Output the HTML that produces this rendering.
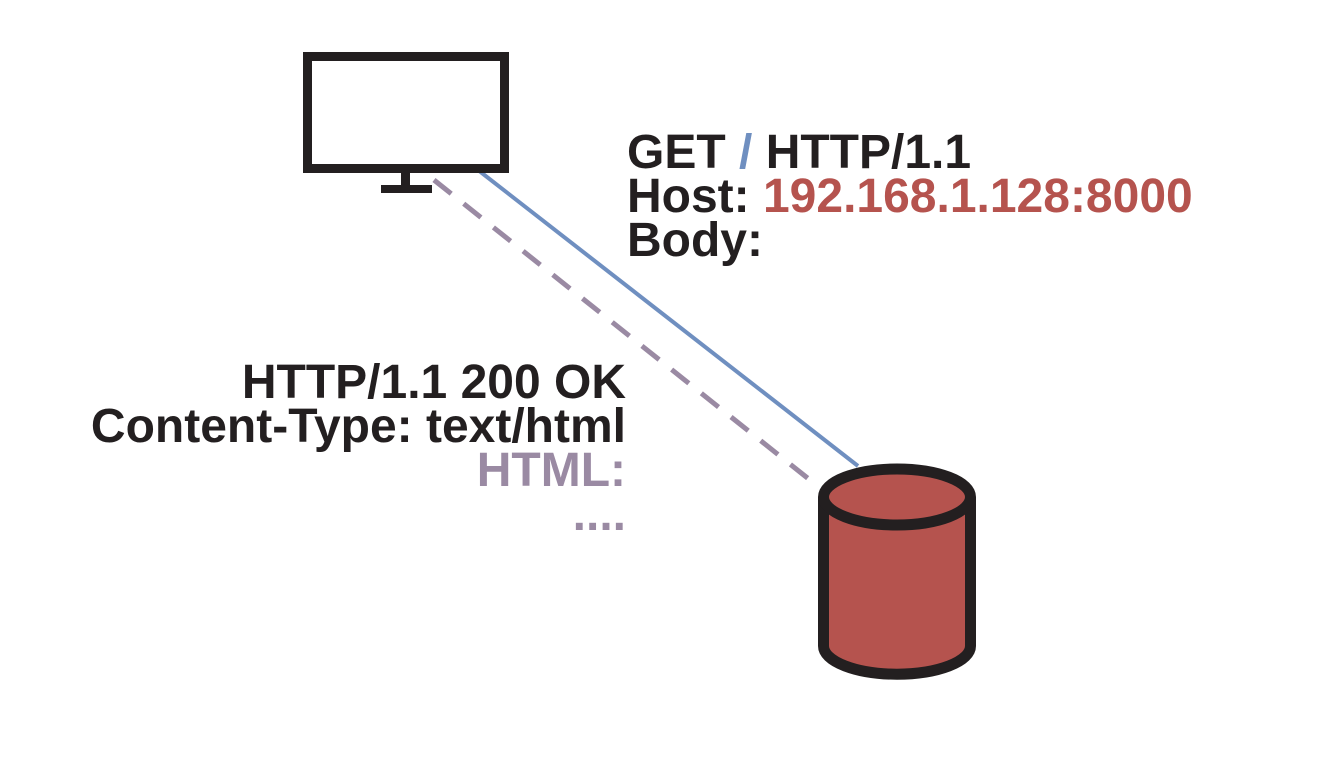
<!DOCTYPE html>
<html><head><meta charset="utf-8"><style>
html,body{margin:0;padding:0;background:#fff;}
body{width:1323px;height:759px;overflow:hidden;position:relative;}
.t{position:absolute;font-family:"Liberation Sans",Arial,sans-serif;font-weight:bold;font-size:48px;line-height:44px;color:#231f20;white-space:nowrap;}
</style></head><body>
<svg width="1323" height="759" style="position:absolute;left:0;top:0">
<line x1="478" y1="170" x2="858" y2="466" stroke="#6f8fc0" stroke-width="4"/>
<line x1="434" y1="180" x2="820" y2="488" stroke="#9a8aa3" stroke-width="5" stroke-dasharray="22,16"/>
<rect x="307.5" y="56.5" width="197" height="112" fill="#fff" stroke="#231f20" stroke-width="9"/>
<rect x="401" y="172" width="9" height="14" fill="#231f20"/>
<rect x="381" y="185" width="51" height="8" fill="#231f20"/>
<path d="M823.5,497 L823.5,646 A73,28 0 0 0 970.5,646 L970.5,497" fill="#b5534e" stroke="#231f20" stroke-width="11"/>
<ellipse cx="897" cy="497" rx="73.5" ry="28" fill="#b5534e" stroke="#231f20" stroke-width="11"/>
</svg>
<div class="t" style="left:627px;top:131px">GET <span style="color:#6f8fc0">/</span> HTTP/1.1<br>Host: <span style="color:#b5534e">192.168.1.128:8000</span><br>Body:</div>
<div class="t" style="right:697px;top:361px;text-align:right">HTTP/1.1 200 OK<br>Content-Type: text/html<br><span style="color:#9a8aa3">HTML:<br>....</span></div>
</body></html>
